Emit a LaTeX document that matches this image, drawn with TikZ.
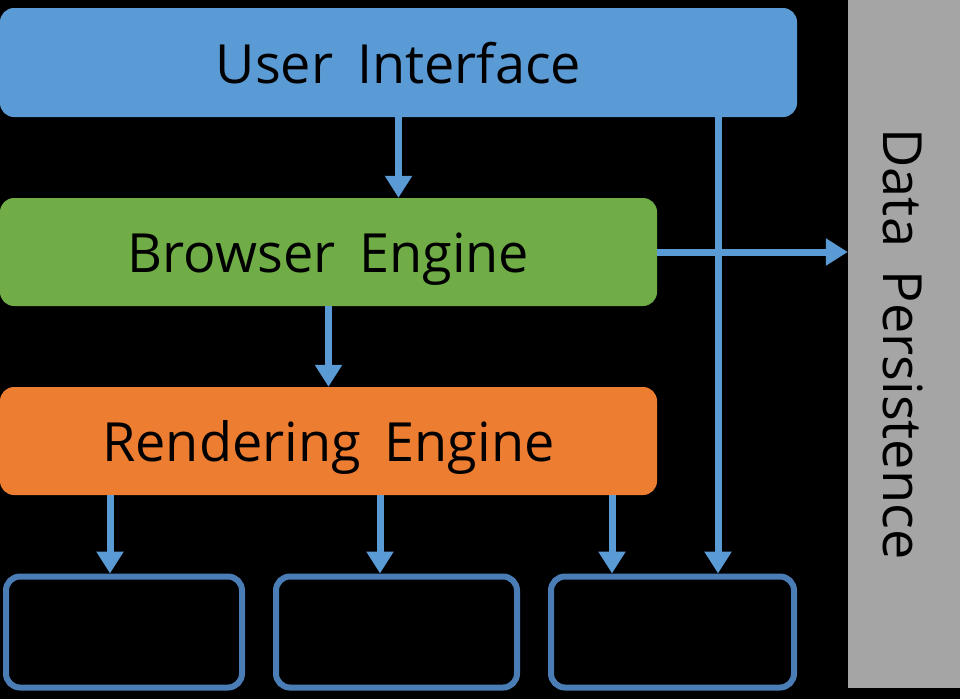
\documentclass[tikz,border=0pt]{standalone}
\usepackage{fontspec}
\setmainfont{Open Sans}[WordSpace=1.7]
\usepackage{xcolor}
\usetikzlibrary{arrows.meta,calc}
\definecolor{uiblue}{HTML}{5B9BD5}
\definecolor{begreen}{HTML}{70AD47}
\definecolor{reorange}{HTML}{ED7D31}
\definecolor{dpgray}{HTML}{A5A5A5}
\definecolor{subline}{HTML}{4A7DB5}

\begin{document}
\begin{tikzpicture}[
  x=1pt,y=-1pt,
  b/.style={rounded corners=14pt,inner sep=0pt,align=center,text height=51pt,text depth=10pt,
            font=\fontsize{54}{60}\selectfont,text=black},
  s/.style={draw=subline,line width=6pt,fill=black,rounded corners=14pt,
            minimum width=236pt,minimum height=111pt},
  a/.style={-{Triangle[length=22pt,width=26pt]},draw=uiblue,line width=7pt}]
\useasboundingbox (0,0) rectangle (960,699);
\fill[black] (0,0) rectangle (960,699);
\node[b,fill=uiblue,minimum width=797pt,minimum height=109pt]   (ui) at (398.5,62.5)  {User Interface};
\node[b,fill=begreen,minimum width=657pt,minimum height=108pt]  (be) at (328.5,252)   {Browser Engine};
\node[b,fill=reorange,minimum width=657pt,minimum height=108pt] (re) at (328.5,441)   {Rendering Engine};
\node[b,fill=dpgray,rounded corners=0pt,rotate=-90,
      minimum width=688pt,minimum height=112pt]                 (dp) at (904,344)     {Data Persistence};
\node[s] (net) at (124,632)   {};
\node[s,minimum width=241pt] (js)  at (396.5,632) {};
\node[s,minimum width=243pt] (uib) at (672.5,632) {};
\draw[a] (ui.south) -- (ui.south |- be.north);
\draw[a] (be) -- (re);
\draw[a] ([xshift=-218.5pt]re.south) -- ([xshift=-218.5pt]re.south |- net.north);
\draw[a] ([xshift=51.5pt]re.south) -- ([xshift=51.5pt]re.south |- js.north);
\draw[a] ([xshift=283.5pt]re.south) -- ([xshift=283.5pt]re.south |- uib.north);
\draw[a] ([xshift=319.5pt]ui.south) -- ([xshift=319.5pt]ui.south |- uib.north);
\draw[a] (be.east) -- (be.east -| dp.south);
\end{tikzpicture}
\end{document}
